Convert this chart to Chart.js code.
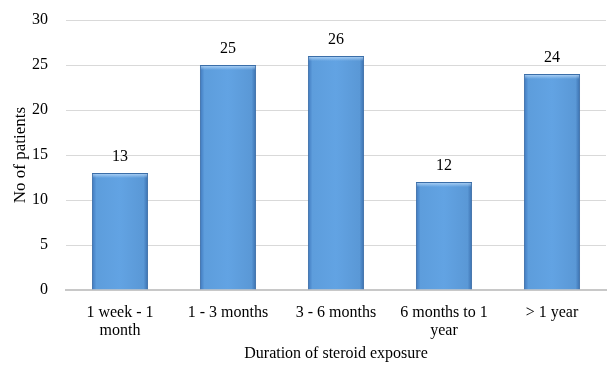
<!DOCTYPE html>
<html>
<head>
<meta charset="utf-8">
<script src="https://cdn.jsdelivr.net/npm/chart.js@4/dist/chart.umd.min.js"></script>
<style>
  html, body { margin: 0; padding: 0; background: #fff; }
  #wrap { width: 613px; height: 365px; }
</style>
</head>
<body>
<div id="wrap"><canvas id="myChart"></canvas></div>
<script>
// chart data
const categories = [['1 week - 1', 'month'], '1 - 3 months', '3 - 6 months', ['6 months to 1', 'year'], '> 1 year'];
const patients = [13, 25, 26, 12, 24];
const yTicks = [0, 5, 10, 15, 20, 25, 30];

const serif = "'Liberation Serif', 'Times New Roman', serif";
const barPct = 0.52;

// top bevel + value above each bar
const valueLabels = {
    id: 'valueLabels',
    afterDatasetsDraw(chart) {
        const ctx = chart.ctx;
        const meta = chart.getDatasetMeta(0);
        ctx.save();
        meta.data.forEach((bar) => {
            const half = bar.width / 2;
            const g = ctx.createLinearGradient(0, bar.y, 0, bar.y + 5);
            g.addColorStop(0, 'rgba(190,220,250,0.9)');
            g.addColorStop(1, 'rgba(190,220,250,0)');
            ctx.fillStyle = g;
            ctx.fillRect(bar.x - half + 1, bar.y + 1, bar.width - 2, 5);
        });
        ctx.font = '16px ' + serif;
        ctx.fillStyle = '#000';
        ctx.textAlign = 'center';
        ctx.textBaseline = 'alphabetic';
        meta.data.forEach((bar, i) => {
            ctx.fillText(patients[i], bar.x, bar.y - 12);
        });
        ctx.restore();
    }
};

// darker edges across each bar
function barFill(context) {
    const chart = context.chart;
    const xs = chart.scales.x;
    if (!chart.chartArea || !xs || context.dataIndex === undefined) return '#5b9bd5';
    const cx = xs.getPixelForValue(context.dataIndex);
    const half = (chart.chartArea.width / categories.length) * barPct / 2;
    if (!isFinite(cx) || !isFinite(half)) return '#5b9bd5';
    const g = chart.ctx.createLinearGradient(cx - half, 0, cx + half, 0);
    g.addColorStop(0, '#3f78bd');
    g.addColorStop(0.08, '#5d9ddc');
    g.addColorStop(0.5, '#62a3e3');
    g.addColorStop(0.92, '#5a98d6');
    g.addColorStop(1, '#3a6fae');
    return g;
}

const ctx = document.getElementById('myChart').getContext('2d');
const myChart = new Chart(ctx, {
    type: 'bar',
    data: {
        labels: categories,
        datasets: [{
            label: 'No of patients',
            data: patients,
            backgroundColor: barFill,
            borderColor: '#3b6ea8',
            borderWidth: 1,
            categoryPercentage: 1,
            barPercentage: barPct
        }]
    },
    options: {
        responsive: true,
        maintainAspectRatio: false,
        animation: false,
        layout: { padding: { top: 20, right: 7, left: 10, bottom: 2 } },
        plugins: {
            legend: { display: false },
            tooltip: { enabled: false }
        },
        scales: {
            x: {
                afterFit(axis) { axis.height = 73; },
                grid: { display: false },
                border: { display: true, color: '#c8c8c8', width: 2 },
                ticks: {
                    color: '#000',
                    maxRotation: 0,
                    minRotation: 0,
                    padding: 6,
                    font: { family: serif, size: 16, lineHeight: 1.1 }
                },
                title: {
                    display: true,
                    text: 'Duration of steroid exposure',
                    color: '#000',
                    padding: { top: 0, bottom: 0 },
                    font: { family: serif, size: 16 }
                }
            },
            y: {
                min: 0,
                max: 30,
                afterBuildTicks(axis) {
                    axis.ticks = yTicks.map(v => ({ value: v }));
                },
                afterFit(axis) {
                    axis.width = 56;
                    axis.paddingTop = 0;
                    axis.paddingBottom = 0;
                },
                grid: { color: '#d9d9d9', lineWidth: 1, drawTicks: false },
                border: { display: false },
                ticks: {
                    color: '#000',
                    padding: 18,
                    font: { family: serif, size: 16 }
                },
                title: {
                    display: true,
                    text: 'No of patients',
                    color: '#000',
                    padding: { top: 0, bottom: 0 },
                    font: { family: serif, size: 17 }
                }
            }
        }
    },
    plugins: [valueLabels]
});
</script>
</body>
</html>
